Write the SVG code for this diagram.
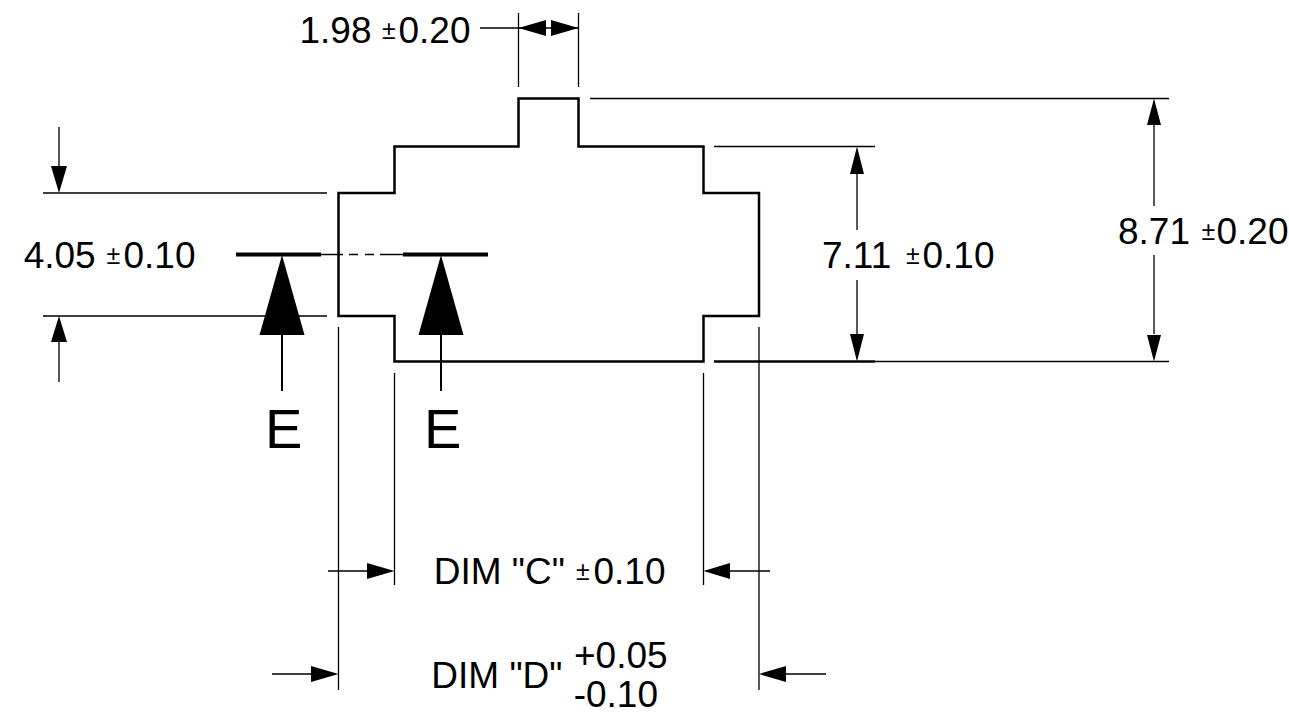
<svg xmlns="http://www.w3.org/2000/svg" width="1289" height="713" viewBox="0 0 1289 713">
<style>
text{font-family:"Liberation Sans",Arial,sans-serif;font-size:37px;fill:#000}
.pm{font-size:25px}
.e{font-size:56px}
.t{stroke:#000;stroke-width:1.3;fill:none}
.m{stroke:#000;stroke-width:2.5;fill:none}
.s{stroke:#000;stroke-width:2;fill:none}
.k{stroke:#000;stroke-width:4;fill:none}
.h{fill:#000}
</style>
<rect width="1289" height="713" fill="#fff"/>
<g id="connectors">
<path class="t" d="M518.5 13V87M578.5 13V87M480 28H578M590 98.500H1169M714 146.500H875M875 361.500H1169M1154 125V206M1154 255V334M857 174V230M857 280V334M59 127V166M59 342V382M43 193H327M43 316H327M338.500 327V690M394.500 373V585M703.500 373V585M759 327V690M328 571H367M730 571H770M272 674H311M786 674H826"/>
<path class="m" d="M714 361.500H875"/>
<path class="t" d="M320 254.500H343M349 254.500H358M365 254.500H374M380 254.500H403"/>
<path class="k" d="M236 254.500H321M403 254.500H488"/>
<path class="s" d="M282 335V391M441 335V391"/>
<path class="h" d="M518.500 28L546 20V36ZM578.500 28L551 20V36ZM1154 98.500L1161 125H1147ZM1154 361.500L1161 335H1147ZM857 146.500L864 174H850ZM857 361.500L864 334H850ZM59 193L51 166H67ZM59 316L51 342H67ZM394.500 571L367 563V579ZM703.500 571L730 563V579ZM338.500 674L311 666V682ZM759 674L786 666V682Z"/>
<path class="h" d="M282 255L304.500 335H259.500ZM441 255L463.500 335H418.500Z"/>
</g>
<g id="outline"><path class="m" d="M338.500 193H394.500V146.500H518.500V98.500H578.500V146.500H703.500V193H759V316H703.500V361.500H394.500V316H338.500Z"/></g>
<g id="labels">
<text x="299.500" y="42.500">1.98 <tspan class="pm" x="382" dy="-4">±</tspan><tspan x="398.500" dy="4">0.20</tspan></text>
<text x="23.700" y="267.500">4.05 <tspan class="pm" x="106.500" dy="-4">±</tspan><tspan x="123.500" dy="4">0.10</tspan></text>
<text x="822" y="267.500">7.11 <tspan class="pm" x="906" dy="-4">±</tspan><tspan x="922.500" dy="4">0.10</tspan></text>
<text x="1118" y="243.500">8.71 <tspan class="pm" x="1201.500" dy="-4">±</tspan><tspan x="1216.500" dy="4">0.20</tspan></text>
<text x="433.700" y="584.300">DIM "C" <tspan class="pm" x="576" dy="-4">±</tspan><tspan x="593.500" dy="4">0.10</tspan></text>
<text x="431.300" y="687.700">DIM "D"</text>
<text x="574" y="668.300">+0.05</text>
<text x="573.700" y="706.700">-0.10</text>
<text class="e" x="265" y="448">E</text>
<text class="e" x="424" y="448">E</text>
</g>
</svg>
